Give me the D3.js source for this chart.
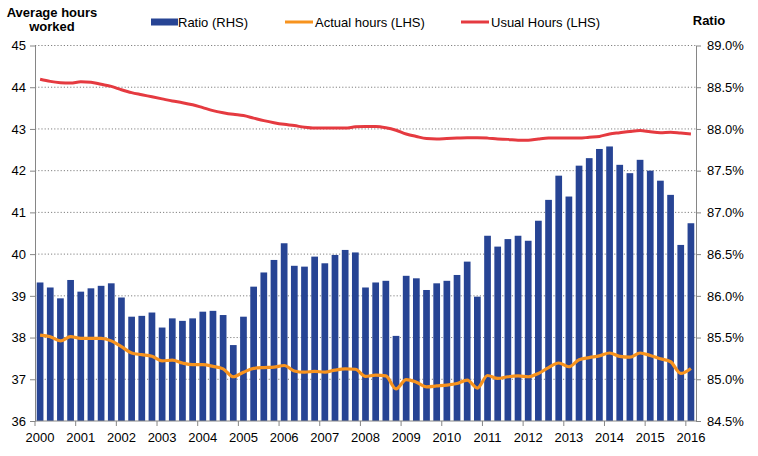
<!DOCTYPE html>
<html>
<head>
<meta charset="utf-8">
<script src="https://cdn.jsdelivr.net/npm/d3@7"></script>
<style>
  body { margin: 0; background: #fff; }
  svg text { font-family: "Liberation Sans", Arial, sans-serif; fill: #000; }
  .grid line { stroke: #808080; stroke-dasharray: 1.2,2; }
  .axis path, .axis line { stroke: #868686; }
</style>
</head>
<body>
<svg id="chart" width="758" height="456"></svg>
<script>
// quarters 2000 Q1 .. 2016 Q1
const years = [2000, 2001, 2002, 2003, 2004, 2005, 2006, 2007, 2008,
               2009, 2010, 2011, 2012, 2013, 2014, 2015, 2016];
const quarters = years.flatMap(y => (y === 2016 ? [1] : [1, 2, 3, 4]).map(q => y + " Q" + q));

// ratio of actual to usual hours (%), right axis
const ratio = [
  86.16, 86.10, 85.97, 86.19, 86.05, 86.09, 86.12, 86.15,
  85.98, 85.75, 85.76, 85.80, 85.62, 85.73, 85.70, 85.73,
  85.81, 85.82, 85.77, 85.41, 85.75, 86.11, 86.28, 86.43,
  86.63, 86.36, 86.35, 86.47, 86.39, 86.49, 86.55, 86.52,
  86.10, 86.16, 86.18, 85.52, 86.24, 86.21, 86.07, 86.15,
  86.18, 86.25, 86.41, 85.99, 86.72, 86.59, 86.68, 86.72,
  86.66, 86.90, 87.15, 87.44, 87.19, 87.56, 87.65, 87.76,
  87.79, 87.57, 87.47, 87.63, 87.50, 87.38, 87.21, 86.61,
  86.87
];

// actual weekly hours worked (left axis)
const actualHours = [
  38.06, 38.02, 37.92, 38.02, 37.98, 37.98, 37.98, 37.92,
  37.78, 37.63, 37.59, 37.55, 37.44, 37.46, 37.39, 37.35,
  37.35, 37.31, 37.25, 37.06, 37.17, 37.26, 37.28, 37.29,
  37.33, 37.20, 37.17, 37.19, 37.17, 37.22, 37.25, 37.24,
  37.07, 37.10, 37.08, 36.77, 36.99, 36.93, 36.82, 36.84,
  36.86, 36.90, 36.98, 36.79, 37.09, 37.02, 37.06, 37.08,
  37.06, 37.14, 37.28, 37.39, 37.30, 37.47, 37.52, 37.56,
  37.63, 37.55, 37.53, 37.63, 37.57, 37.49, 37.42, 37.14,
  37.26
];

// usual weekly hours (left axis)
const usualHours = [
  44.19, 44.14, 44.11, 44.10, 44.13, 44.12, 44.07, 44.02,
  43.94, 43.87, 43.82, 43.77, 43.72, 43.67, 43.63, 43.58,
  43.51, 43.44, 43.39, 43.35, 43.32, 43.26, 43.20, 43.15,
  43.11, 43.08, 43.04, 43.02, 43.02, 43.02, 43.02, 43.05,
  43.06, 43.06, 43.03, 42.97, 42.88, 42.82, 42.77, 42.76,
  42.77, 42.78, 42.79, 42.79, 42.78, 42.76, 42.75, 42.73,
  42.73, 42.76, 42.78, 42.78, 42.78, 42.78, 42.80, 42.82,
  42.88, 42.91, 42.94, 42.96, 42.93, 42.91, 42.92, 42.90,
  42.88
];

const leftTicks = [36, 37, 38, 39, 40, 41, 42, 43, 44, 45];
const rightTicks = [84.5, 85, 85.5, 86, 86.5, 87, 87.5, 88, 88.5, 89];

const svg = d3.select("#chart");
const margin = { top: 45.5, right: 62, bottom: 35, left: 35 };
const width = +svg.attr("width");
const height = +svg.attr("height");
const plotRight = width - margin.right;
const plotBottom = height - margin.bottom;

const x = d3.scaleBand()
            .domain(quarters)
            .range([margin.left, plotRight])
            .paddingInner(0.34)
            .paddingOuter(0.17);
const step = x.step();
const xc = q => x(q) + x.bandwidth() / 2;

const yL = d3.scaleLinear().domain([36, 45]).range([plotBottom, margin.top]);
const yR = d3.scaleLinear().domain([84.5, 89]).range([plotBottom, margin.top]);

// gridlines
svg.append("g")
   .attr("class", "grid")
   .selectAll("line")
   .data(leftTicks.slice(1))
   .join("line")
   .attr("x1", margin.left)
   .attr("x2", plotRight)
   .attr("y1", d => yL(d))
   .attr("y2", d => yL(d));

// bars
svg.append("g")
   .selectAll("rect")
   .data(ratio)
   .join("rect")
   .attr("x", (d, i) => x(quarters[i]))
   .attr("width", x.bandwidth())
   .attr("y", d => yR(d))
   .attr("height", d => yR(84.5) - yR(d))
   .attr("fill", "#274494");

// lines
const line = d3.line()
               .x((d, i) => xc(quarters[i]))
               .y(d => yL(d))
               .curve(d3.curveMonotoneX);

svg.append("path")
   .datum(actualHours)
   .attr("fill", "none")
   .attr("stroke", "#F7931E")
   .attr("stroke-width", 3.2)
   .attr("stroke-linejoin", "round")
   .attr("d", line);

svg.append("path")
   .datum(usualHours)
   .attr("fill", "none")
   .attr("stroke", "#E53A40")
   .attr("stroke-width", 3)
   .attr("stroke-linejoin", "round")
   .attr("d", line);

// left axis
const leftAxis = svg.append("g")
   .attr("class", "axis")
   .attr("transform", `translate(${margin.left},0)`)
   .call(d3.axisLeft(yL).tickValues(leftTicks).tickSize(5).tickPadding(4).tickSizeOuter(0));
leftAxis.selectAll("text").style("font-size", "13px");

// right axis
const rightAxis = svg.append("g")
   .attr("class", "axis")
   .attr("transform", `translate(${plotRight},0)`)
   .call(d3.axisRight(yR).tickValues(rightTicks).tickSize(5).tickPadding(6)
           .tickSizeOuter(0).tickFormat(d => d3.format(".1f")(d) + "%"));
rightAxis.selectAll("text").style("font-size", "13px");

// bottom axis: ticks at the start of each year, labels under first quarter
const xAxis = svg.append("g").attr("class", "axis");
xAxis.append("line")
     .attr("x1", margin.left).attr("x2", plotRight)
     .attr("y1", plotBottom).attr("y2", plotBottom);
const yearQ = years.map(y => y + " Q1");
xAxis.selectAll("line.tick")
     .data(yearQ)
     .join("line")
     .attr("class", "tick")
     .attr("x1", d => xc(d) - step / 2)
     .attr("x2", d => xc(d) - step / 2)
     .attr("y1", plotBottom)
     .attr("y2", plotBottom + 5);
xAxis.selectAll("text")
     .data(yearQ)
     .join("text")
     .attr("x", d => xc(d))
     .attr("y", plotBottom + 21)
     .attr("text-anchor", "middle")
     .style("font-size", "13px")
     .text(d => d.slice(0, 4));

// axis titles
const leftTitle = svg.append("text")
   .attr("text-anchor", "middle")
   .style("font-size", "13px")
   .style("font-weight", "bold");
leftTitle.append("tspan").attr("x", 52).attr("y", 17).text("Average hours");
leftTitle.append("tspan").attr("x", 52).attr("y", 31).text("worked");

svg.append("text")
   .attr("x", 709)
   .attr("y", 25)
   .attr("text-anchor", "middle")
   .style("font-size", "13px")
   .style("font-weight", "bold")
   .text("Ratio");

// legend
const legendItems = [
  { label: "Ratio (RHS)", type: "bar", color: "#274494", x: 151 },
  { label: "Actual hours (LHS)", type: "line", color: "#F7931E", x: 285 },
  { label: "Usual Hours (LHS)", type: "line", color: "#E53A40", x: 461 }
];
const legend = svg.append("g");
legendItems.forEach(item => {
  const g = legend.append("g").attr("transform", `translate(${item.x},22)`);
  if (item.type === "bar") {
    g.append("rect").attr("x", 0).attr("y", -3.5).attr("width", 27).attr("height", 7).attr("fill", item.color);
  } else {
    g.append("line").attr("x1", 0).attr("x2", 28).attr("y1", 0).attr("y2", 0)
     .attr("stroke", item.color).attr("stroke-width", 3);
  }
  g.append("text")
   .attr("x", item.type === "bar" ? 27 : 30)
   .attr("y", 4.5)
   .style("font-size", "13px")
   .text(item.label);
});
</script>
</body>
</html>
